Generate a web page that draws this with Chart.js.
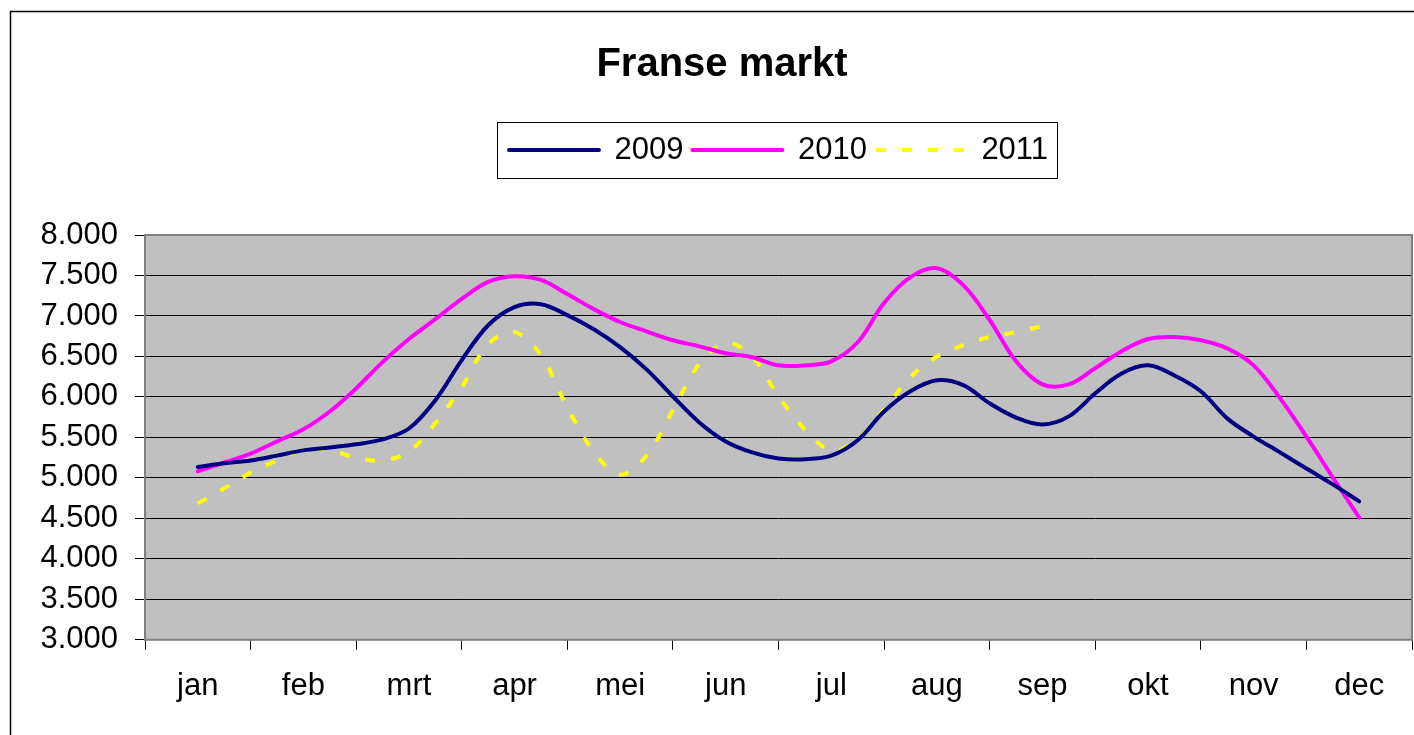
<!DOCTYPE html>
<html>
<head>
<meta charset="utf-8">
<title>Franse markt</title>
<script src="https://cdn.jsdelivr.net/npm/chart.js@4.4.1/dist/chart.umd.min.js"></script>
<style>
  html, body { margin: 0; padding: 0; background: #fff; }
  #chart { display: block; }
</style>
</head>
<body>
<canvas id="chart" width="1414" height="735"></canvas>
<script>
const months = ['jan', 'feb', 'mrt', 'apr', 'mei', 'jun', 'jul', 'aug', 'sep', 'okt', 'nov', 'dec'];

// weekly readings (4 per month), first one mid-january
const sales2009 = [5135, 5180, 5215, 5275, 5340, 5375, 5415, 5475, 5610, 5960,
    6455, 6885, 7110, 7145, 7010, 6835, 6615, 6340, 6005, 5685,
    5450, 5315, 5240, 5230, 5275, 5465, 5820, 6070, 6205, 6145,
    5920, 5745, 5660, 5760, 6045, 6290, 6390, 6265, 6070, 5735,
    5510, 5315, 5115, 4920, 4710];
const sales2010 = [5080, 5190, 5300, 5450, 5600, 5820, 6105, 6430, 6715, 6960,
    7210, 7420, 7490, 7445, 7270, 7085, 6925, 6810, 6700, 6625,
    6540, 6490, 6390, 6390, 6440, 6675, 7160, 7480, 7590, 7380,
    6950, 6440, 6155, 6155, 6355, 6565, 6715, 6740, 6700, 6600,
    6390, 5985, 5510, 5005, 4510];
const sales2011 = [4685, 4870, 5065, 5215, 5350, 5340, 5250, 5215, 5325, 5675,
    6120, 6650, 6800, 6515, 5870, 5325, 5040, 5275, 5835, 6405,
    6665, 6500, 6005, 5600, 5340, 5475, 5845, 6245, 6500, 6640,
    6740, 6800, 6875];

const yMin = 3000;
const yMax = 8000;
const yStep = 500;

Chart.defaults.font.family = "'Liberation Sans', Arial, sans-serif";
Chart.defaults.color = '#000';

// week index -> month position (jan center = 0.5)
function weekly(values) {
    return values.map((v, i) => ({ x: 0.5 + i / 4, y: v }));
}

const legendGap = {
    id: 'legendGap',
    beforeInit(chart) {
        const fit = chart.legend.fit;
        chart.legend.fit = function () {
            fit.call(this);
            this.height += 59.5;
        };
    }
};

const plotFrame = {
    id: 'plotFrame',
    beforeDraw(chart) {
        const { ctx, chartArea: a } = chart;
        ctx.save();
        ctx.fillStyle = '#c0c0c0';
        ctx.fillRect(a.left, a.top, a.right - a.left, a.bottom - a.top);
        ctx.strokeStyle = '#000';
        ctx.lineWidth = 1.5;
        ctx.beginPath();
        ctx.moveTo(10.5, chart.height);
        ctx.lineTo(10.5, 11.5);
        ctx.lineTo(chart.width, 11.5);
        ctx.stroke();
        ctx.restore();
    },
    beforeDatasetsDraw(chart) {
        const { ctx, chartArea: a } = chart;
        ctx.save();
        ctx.strokeStyle = '#808080';
        ctx.lineWidth = 2;
        ctx.strokeRect(a.left, a.top, a.right - a.left, a.bottom - a.top);
        ctx.restore();
    },
    afterDraw(chart) {
        const boxes = chart.legend.legendHitBoxes;
        if (!boxes || !boxes.length) return;
        const left = Math.min(...boxes.map(b => b.left)) - 12;
        const right = Math.max(...boxes.map(b => b.left + b.width)) + 9;
        const top = boxes[0].top - 12.5;
        const ctx = chart.ctx;
        ctx.save();
        ctx.strokeStyle = '#000';
        ctx.lineWidth = 1;
        ctx.strokeRect(Math.round(left) + 0.5, Math.round(top) + 0.5, Math.round(right - left), 56);
        ctx.restore();
    }
};

const ctx = document.getElementById('chart').getContext('2d');
const chart = new Chart(ctx, {
    type: 'line',
    data: {
        datasets: [{
            label: '2009',
            data: weekly(sales2009),
            xAxisID: 'xv',
            borderColor: '#000080',
            borderWidth: 4,
            borderCapStyle: 'round',
            pointRadius: 0,
            tension: 0.35,
            fill: false
        }, {
            label: '2010',
            data: weekly(sales2010),
            xAxisID: 'xv',
            borderColor: '#ff00ff',
            borderWidth: 4,
            borderCapStyle: 'round',
            pointRadius: 0,
            tension: 0.35,
            fill: false
        }, {
            label: '2011',
            data: weekly(sales2011),
            xAxisID: 'xv',
            borderColor: '#ffff00',
            borderWidth: 4,
            borderDash: [10, 16],
            pointRadius: 0,
            tension: 0.35,
            fill: false
        }]
    },
    options: {
        responsive: false,
        animation: false,
        layout: {
            padding: { left: 32, right: 2, top: 0, bottom: 12 }
        },
        plugins: {
            title: {
                display: true,
                text: 'Franse markt',
                color: '#000',
                font: { size: 40, weight: 'bold' },
                padding: { top: 41, bottom: 36.5 }
            },
            legend: {
                fullSize: false,
                labels: {
                    usePointStyle: true,
                    pointStyle: 'line',
                    pointStyleWidth: 90,
                    padding: 9,
                    color: '#000',
                    font: { size: 31 },
                    generateLabels(chart) {
                        const items = Chart.defaults.plugins.legend.labels.generateLabels(chart);
                        items.forEach(item => {
                            const ds = chart.data.datasets[item.datasetIndex];
                            item.lineDash = ds.borderDash || [];
                            item.lineWidth = ds.borderWidth;
                            item.lineCap = ds.borderCapStyle || 'butt';
                            item.strokeStyle = ds.borderColor;
                        });
                        return items;
                    }
                }
            },
            tooltip: { enabled: false }
        },
        scales: {
            x: {
                type: 'category',
                labels: months,
                offset: true,
                grid: {
                    offset: true,
                    drawOnChartArea: false,
                    color: '#000',
                    tickLength: 10
                },
                border: { display: false },
                ticks: {
                    color: '#000',
                    font: { size: 31 },
                    padding: 18,
                    maxRotation: 0,
                    autoSkip: false
                }
            },
            xv: {
                type: 'linear',
                display: false,
                min: 0,
                max: 12
            },
            y: {
                min: yMin,
                max: yMax,
                ticks: {
                    stepSize: yStep,
                    autoSkip: false,
                    color: '#000',
                    font: { size: 31 },
                    padding: 17,
                    callback: v => (v / 1000).toFixed(3)
                },
                grid: { color: '#000', tickLength: 10 },
                border: { display: false },
                afterFit(scale) { scale.width = 113; }
            }
        }
    },
    plugins: [legendGap, plotFrame]
});
</script>
</body>
</html>
